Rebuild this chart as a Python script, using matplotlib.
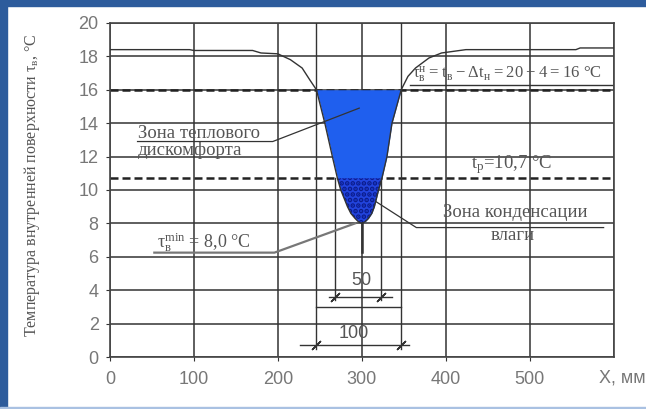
import numpy as np
import matplotlib.pyplot as plt
from matplotlib.patches import Rectangle

# 1. Данные: температура внутренней поверхности по длине стены
x_mm = [0, 95, 100, 170, 180, 200, 215, 229, 238, 246, 256, 265, 271, 275, 283, 287, 292, 296, 300,
        304, 308, 312, 315, 320, 324, 330, 336, 347, 355, 364, 380, 395, 424, 555, 560, 600]
t_surface = [18.4, 18.4, 18.35, 18.35, 18.2, 18.15, 17.8, 17.3, 16.6, 16.0, 14.0, 12.0, 10.7, 10.0, 9.0, 8.6, 8.3, 8.1, 8.0,
             8.1, 8.3, 8.6, 9.0, 10.0, 10.7, 12.0, 14.0, 16.0, 16.8, 17.3, 17.9, 18.2, 18.4, 18.4, 18.5, 18.5]

t_norm = 16.0   # нормируемая температура поверхности
t_dew = 10.7    # точка росы
t_min = 8.0     # минимальная температура

zone_edges = [246, 347]   # зона дискомфорта, 100 мм
cond_edges = [268, 323]   # зона конденсации, 50 мм

x_ticks = [0, 100, 200, 300, 400, 500]
x_grid = [0, 100, 200, 300, 400, 500, 600]
y_ticks = list(range(0, 21, 2))

# 2. Оформление
plt.rcParams['font.family'] = ['Liberation Serif', 'DejaVu Serif']
plt.rcParams['hatch.linewidth'] = 2.4
tick_font = ['Liberation Sans Narrow', 'Liberation Sans', 'DejaVu Sans']
txt_c = '#555555'
line_c = '#333333'
lab_fs = 13.5

fig = plt.figure(figsize=(6.46, 4.09), dpi=100)
ax = fig.add_axes([0.170, 0.127, 0.780, 0.817])

xs = np.array(x_mm)
ts = np.array(t_surface)

# сетка
for gx in x_grid:
    ax.axvline(gx, color=line_c, lw=1.1, zorder=1)
for gy in y_ticks:
    ax.axhline(gy, color=line_c, lw=1.1, zorder=1)

# пунктир: нормируемая температура и точка росы
for lvl in [t_norm, t_dew]:
    ax.axhline(lvl, color='#222222', lw=1.8, dashes=(3.2, 1.6), zorder=1.5)

# заливка зон
ax.fill_between(xs, ts, t_norm, where=ts <= t_norm, interpolate=True,
                color='#1f5fee', lw=0, zorder=2)
ax.fill_between(xs, ts, t_dew, where=ts <= t_dew, interpolate=True,
                facecolor='#2244dd', edgecolor='#0b1c8c', hatch='...', lw=0, zorder=2.5)

# кривая температуры
ax.plot(xs, ts, color=line_c, lw=1.0, zorder=3)

# размерные линии
for ex in zone_edges:
    ax.plot([ex, ex], [20, 0.5], color=line_c, lw=1.0, zorder=3)
for ex in cond_edges:
    ax.plot([ex, ex], [t_dew, 3.4], color=line_c, lw=1.0, zorder=3)
ax.plot([300, 300], [t_min, 6.3], color=line_c, lw=1.8, zorder=3)

ax.plot([261, 336], [3.6, 3.6], color=line_c, lw=1.0, zorder=3)
ax.plot(zone_edges, [3.0, 3.0], color=line_c, lw=1.0, zorder=3)
ax.plot([226, 356], [0.7, 0.7], color=line_c, lw=1.0, zorder=3)
ax.plot(cond_edges, [3.6, 3.6], ls='none', marker=(2, 2, -45), ms=9, mec=line_c, mew=1.0, zorder=3)
ax.plot(zone_edges, [0.7, 0.7], ls='none', marker=(2, 2, -45), ms=9, mec=line_c, mew=1.0, zorder=3)

ax.text(300, 4.6, '50', ha='center', va='center', fontsize=13, color=txt_c, family=tick_font, zorder=4)
ax.text(291, 1.4, '100', ha='center', va='center', fontsize=13, color=txt_c, family=tick_font, zorder=4)

# 3. Подписи зон
ax.text(33, 13.4, 'Зона теплового', ha='left', va='center', fontsize=lab_fs, color=txt_c, zorder=4)
ax.text(33, 12.35, 'дискомфорта', ha='left', va='center', fontsize=lab_fs, color=txt_c, zorder=4)
ax.plot([33, 194, 297], [12.9, 12.9, 14.9], color=line_c, lw=0.9, zorder=4)

ax.text(56, 6.9, r'$\mathregular{τ_в^{min}}$ = 8,0 °C', ha='left', va='center', fontsize=13, color=txt_c, zorder=4)
ax.plot([53, 196, 292], [6.25, 6.25, t_min], color='#777777', lw=1.6, zorder=4)

ax.text(360, 16.9, r'$\mathregular{τ_в^н=t_в-Δt_н=20-4=16}$ °C', ha='left', va='center',
        fontsize=12, color=txt_c, zorder=4)
ax.plot([358, 598], [16.3, 16.3], color=line_c, lw=1.0, zorder=4)

ax.text(430, 11.55, r'$\mathregular{t_р}$=10,7 °C', ha='left', va='center', fontsize=lab_fs, color=txt_c, zorder=4)

ax.text(483, 8.65, 'Зона конденсации', ha='center', va='center', fontsize=lab_fs, color=txt_c, zorder=4)
ax.text(480, 7.25, 'влаги', ha='center', va='center', fontsize=lab_fs, color=txt_c, zorder=4)
ax.plot([317, 365, 588], [9.3, 7.75, 7.75], color=line_c, lw=0.9, zorder=4)

# 4. Оси
ax.set_xlim(0, 600)
ax.set_ylim(0, 20)
ax.set_xticks(x_ticks)
ax.set_yticks(y_ticks)
ax.tick_params(length=3, color=line_c, labelcolor='#777777', labelsize=13)
ax.tick_params(axis='x', pad=7)
ax.tick_params(axis='y', pad=5)
for lab in ax.get_xticklabels() + ax.get_yticklabels():
    lab.set_family(tick_font)
for sp in ax.spines.values():
    sp.set_color('#444444')
    sp.set_linewidth(1.2)

ax.text(583, -0.063, 'X, мм', transform=ax.get_xaxis_transform(), ha='left', va='center',
        fontsize=13, color='#777777', family=tick_font)

ax.set_ylabel(r'Температура внутренней поверхности $\mathregular{τ_в}$, °C', fontsize=11.5, color=txt_c)
ax.yaxis.set_label_coords(-0.135, 0.515)

# 5. Рамка рисунка
fig.add_artist(Rectangle((0, 0), 7 / 646, 1, transform=fig.transFigure, color='#2d5c9c', zorder=10))
fig.add_artist(Rectangle((0, 1 - 6 / 409), 1, 6 / 409, transform=fig.transFigure, color='#2d5c9c', zorder=10))
fig.add_artist(Rectangle((0, 0), 1, 2 / 409, transform=fig.transFigure, color='#a9c1e2', zorder=10))

fig.savefig('out.png', dpi=100)
